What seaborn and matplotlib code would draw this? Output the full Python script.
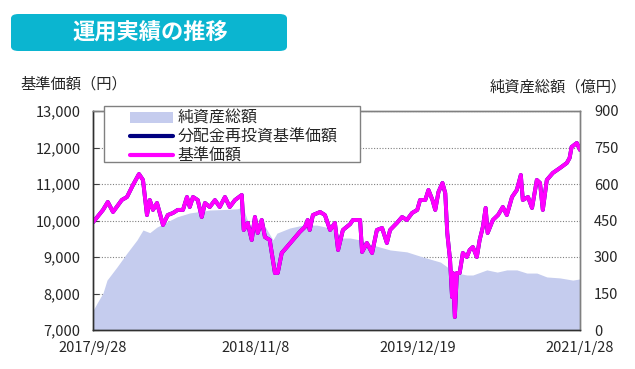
import pandas as pd
import matplotlib.pyplot as plt
import seaborn as sns
from matplotlib.patches import FancyBboxPatch, Patch, Rectangle
from matplotlib.lines import Line2D

sns.set_style("white")
plt.rcParams["font.family"] = ["Noto Sans CJK JP", "DejaVu Sans"]

# ---- data ----
nav_dates = [
    "2017-09-28", "2017-10-23", "2017-11-04", "2017-11-17", "2017-12-09", "2017-12-22",
    "2018-01-06", "2018-01-21", "2018-01-31", "2018-02-10", "2018-02-17", "2018-02-25",
    "2018-03-07", "2018-03-14", "2018-03-22", "2018-04-03", "2018-04-16", "2018-04-28",
    "2018-05-11", "2018-05-21", "2018-05-28", "2018-06-05", "2018-06-17", "2018-06-27",
    "2018-07-05", "2018-07-17", "2018-07-30", "2018-08-11", "2018-08-24", "2018-09-05",
    "2018-09-18", "2018-10-05", "2018-10-10", "2018-10-20", "2018-10-30", "2018-11-07",
    "2018-11-14", "2018-11-24", "2018-12-02", "2018-12-14", "2018-12-27", "2019-01-03",
    "2019-01-13", "2019-01-26", "2019-02-10", "2019-02-27", "2019-03-12", "2019-03-19",
    "2019-03-24", "2019-04-01", "2019-04-19", "2019-05-01", "2019-05-14", "2019-05-26",
    "2019-06-03", "2019-06-15", "2019-07-03", "2019-07-10", "2019-07-28", "2019-08-02",
    "2019-08-14", "2019-08-27", "2019-09-08", "2019-09-21", "2019-10-03", "2019-10-11",
    "2019-10-28", "2019-11-10", "2019-11-22", "2019-12-05", "2019-12-18", "2019-12-25",
    "2020-01-07", "2020-01-15", "2020-01-25", "2020-02-01", "2020-02-09", "2020-02-19",
    "2020-02-26", "2020-03-02", "2020-03-09", "2020-03-14", "2020-03-16", "2020-03-21",
    "2020-03-26", "2020-04-02", "2020-04-10", "2020-04-20", "2020-04-27", "2020-05-05",
    "2020-05-15", "2020-05-22", "2020-05-30", "2020-06-06", "2020-06-11", "2020-06-24",
    "2020-07-07", "2020-07-19", "2020-07-29", "2020-08-11", "2020-08-23", "2020-09-02",
    "2020-09-07", "2020-09-20", "2020-09-30", "2020-10-12", "2020-10-20", "2020-10-27",
    "2020-11-06", "2020-11-21", "2020-12-09", "2020-12-26", "2021-01-02", "2021-01-07",
    "2021-01-20", "2021-01-28",
]
nav_values = [
    9950, 10290, 10507, 10233, 10562, 10644,
    10973, 11274, 11110, 10150, 10562, 10290,
    10480, 10206, 9877, 10150, 10206, 10290,
    10290, 10644, 10370, 10644, 10560, 10096,
    10480, 10370, 10560, 10370, 10644, 10370,
    10560, 10699, 9740, 9932, 9466, 10096,
    9658, 10014, 9548, 9466, 8562, 8562,
    9110, 9274, 9466, 9685, 9822, 10014,
    9740, 10150, 10233, 10150, 9740, 9932,
    9192, 9740, 9900, 10014, 10014, 9137,
    9384, 9110, 9740, 9795, 9384, 9740,
    9932, 10096, 10014, 10206, 10290, 10562,
    10562, 10836, 10562, 10290, 10781, 11028,
    10750, 9658, 8918, 7904, 8562, 7356,
    8562, 8562, 9110, 9000, 9192, 9274,
    9000, 9466, 9822, 10343, 9658, 10014,
    10150, 10370, 10150, 10644, 10836, 11247,
    10562, 10644, 10343, 11110, 11030, 10290,
    11110, 11302, 11439, 11576, 11713, 12014,
    12124, 11932,
]
aum_dates = [
    "2017-09-28", "2017-10-08", "2017-10-23", "2017-11-02", "2017-11-27", "2017-12-22",
    "2018-01-16", "2018-01-31", "2018-02-17", "2018-03-07", "2018-04-01", "2018-04-26",
    "2018-05-28", "2018-06-22", "2018-07-17", "2018-08-19", "2018-09-23", "2018-10-08",
    "2018-10-25", "2018-11-27", "2018-12-22", "2019-01-01", "2019-02-02", "2019-03-07",
    "2019-04-11", "2019-05-14", "2019-06-15", "2019-07-03", "2019-07-28", "2019-08-29",
    "2019-10-11", "2019-11-22", "2020-01-01", "2020-02-14", "2020-03-02", "2020-03-09",
    "2020-03-26", "2020-04-20", "2020-05-05", "2020-06-09", "2020-07-05", "2020-07-29",
    "2020-08-23", "2020-09-17", "2020-10-12", "2020-11-06", "2020-12-09", "2021-01-10",
    "2021-01-28",
]
aum_values = [
    80, 110, 152, 205, 259, 316,
    370, 411, 400, 423, 444, 465,
    481, 487, 493, 495, 498, 505,
    423, 440, 370, 398, 419, 431,
    431, 419, 378, 378, 370, 349,
    329, 321, 300, 279, 259, 234,
    234, 226, 226, 247, 238, 247,
    247, 234, 234, 218, 214, 205,
    210,
]
tick_dates = ["2017-09-28", "2018-11-08", "2019-12-19", "2021-01-28"]
tick_labels = ["2017/9/28", "2018/11/8", "2019/12/19", "2021/1/28"]
nav_ticks = [7000, 8000, 9000, 10000, 11000, 12000, 13000]
aum_ticks = [0, 150, 300, 450, 600, 750, 900]
legend_labels = ["純資産総額", "分配金再投資基準価額", "基準価額"]

nav = pd.DataFrame({"date": pd.to_datetime(nav_dates), "value": nav_values})
aum = pd.DataFrame({"date": pd.to_datetime(aum_dates), "value": aum_values})
ticks = pd.to_datetime(tick_dates)

# ---- figure ----
fig = plt.figure(figsize=(6.35, 3.69), dpi=100)
ax = fig.add_axes([93 / 635, 39 / 369, 487 / 635, 219 / 369])
ax2 = ax.twinx()
ax.set_zorder(ax2.get_zorder() + 1)
ax.patch.set_visible(False)

# net assets area on right axis (below)
ax2.fill_between(aum["date"], aum["value"], 0, color="#C5CCEE", lw=0, zorder=2)
ax2.set_ylim(0, 900)
ax2.set_yticks(aum_ticks)
ax2.set_yticklabels([f"{v:,}" for v in aum_ticks], fontsize=10.5)
ax2.yaxis.grid(True, color="#808080", ls=(0, (1, 1.5)), lw=0.8)
ax2.set_axisbelow(True)
ax2.tick_params(axis="y", length=0, pad=10)

# NAV lines on left axis (the two series coincide, magenta on top)
sns.lineplot(data=nav, x="date", y="value", ax=ax, color="#000080", lw=2.8)
sns.lineplot(data=nav, x="date", y="value", ax=ax, color="#FF00FF", lw=2.8)
ax.set_ylim(7000, 13000)
ax.set_yticks(nav_ticks)
ax.set_yticklabels([f"{v:,}" for v in nav_ticks], fontsize=10.5)
ax.set_xlim(ticks[0], ticks[-1])
ax.set_xticks(ticks)
ax.set_xticklabels(tick_labels, fontsize=10.5)
ax.set_xlabel("")
ax.set_ylabel("")
ax.tick_params(axis="y", direction="in", length=4, pad=9, color="#404040")
ax.tick_params(axis="x", direction="in", length=4, pad=8, color="#404040")

for a in (ax, ax2):
    a.spines["left"].set_color("#303030")
    a.spines["bottom"].set_color("#303030")
    a.spines["top"].set_color("#808080")
    a.spines["right"].set_color("#808080")
    for s in a.spines.values():
        s.set_linewidth(1.0)

# legend: separate frame so the handles can sit further right
ax.add_patch(Rectangle((0.0226, 0.767), 0.526, 0.256, transform=ax.transAxes,
                       facecolor="white", edgecolor="#808080", lw=1.0,
                       clip_on=False, zorder=4))
handles = [
    Patch(facecolor="#C5CCEE", edgecolor="none"),
    Line2D([], [], color="#000080", lw=3),
    Line2D([], [], color="#FF00FF", lw=3),
]
leg = ax.legend(handles, legend_labels, loc="upper left",
                bbox_to_anchor=(0.072, 1.012), borderaxespad=0, fontsize=11.5,
                frameon=False, handlelength=2.7, handletextpad=0.3,
                labelspacing=0.12, borderpad=0.1)
leg.set_zorder(5)

# title banner
banner = FancyBboxPatch((11 / 635, (369 - 51) / 369), 276 / 635, 37 / 369,
                        boxstyle="round,pad=0,rounding_size=0.012",
                        transform=fig.transFigure, facecolor="#0BB5D0",
                        edgecolor="none")
fig.patches.append(banner)
fig.text(150 / 635, (369 - 33) / 369, "運用実績の推移", color="white",
         fontsize=16, fontweight="bold", ha="center", va="center")

fig.text(20 / 635, (369 - 84) / 369, "基準価額（円）", fontsize=11,
         ha="left", va="center")
fig.text(627 / 635, (369 - 87) / 369, "純資産総額（億円）", fontsize=11,
         ha="right", va="center")

fig.savefig("out.png", dpi=100)
